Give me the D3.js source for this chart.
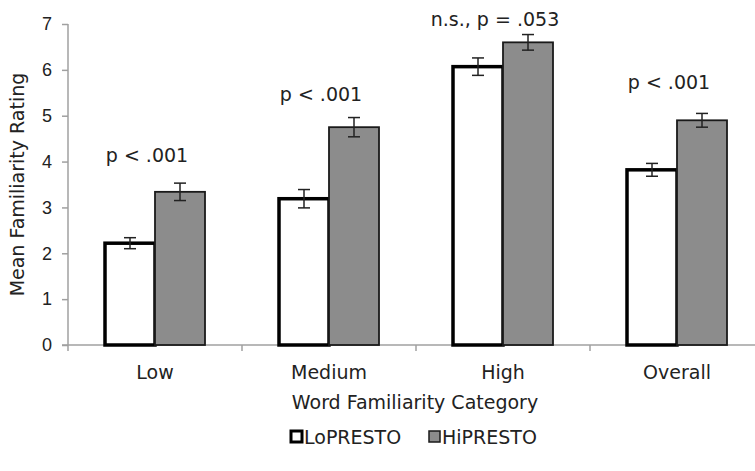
<!DOCTYPE html>
<html lang="en">
<head>
<meta charset="utf-8">
<title>Mean Familiarity Rating</title>
<style>
    body { margin: 0; background: white; }
    svg { display: block; font-family: "DejaVu Sans", Verdana, sans-serif; }
    .axis path, .axis line { stroke: #a0a0a0; stroke-width: 1.5; fill: none; }
    .axis text { font-size: 18px; fill: #222; }
</style>
</head>
<body>
<div id="chart"></div>
<script src="https://d3js.org/d3.v7.min.js"></script>
<script>
    // data
    var categories = ["Low", "Medium", "High", "Overall"];
    var seriesNames = ["LoPRESTO", "HiPRESTO"];
    var loMeans = [2.22, 3.19, 6.07, 3.82];
    var loErr = [0.12, 0.20, 0.19, 0.14];
    var hiMeans = [3.34, 4.75, 6.60, 4.90];
    var hiErr = [0.19, 0.21, 0.17, 0.15];
    var pLabels = ["p < .001", "p < .001", "n.s., p = .053", "p < .001"];
    var pLabelY = [3.99, 5.32, 6.96, 5.58];
    var yTicks = [0, 1, 2, 3, 4, 5, 6, 7];

    var width = 755, height = 471;
    var padLeft = 68, padTop = 24, plotBottom = 345;
    var band = 174;

    var svg = d3.select("#chart").append("svg")
        .attr("width", width)
        .attr("height", height);

    var xScale = d3.scaleBand()
        .domain(categories)
        .range([padLeft, padLeft + band * categories.length])
        .padding(0);

    var yScale = d3.scaleLinear()
        .domain([0, 7])
        .range([plotBottom, padTop]);

    var barW = 50;

    // y axis
    var yAxis = d3.axisLeft(yScale).tickValues(yTicks).tickSize(6).tickPadding(10).tickFormat(d3.format("d"));
    svg.append("g")
        .attr("class", "axis")
        .attr("transform", "translate(" + padLeft + ",0)")
        .call(yAxis)
        .call(function(g) { g.select(".domain").attr("d", "M0," + padTop + "V" + plotBottom); });

    // x axis with ticks at category boundaries
    var xAxisG = svg.append("g")
        .attr("class", "axis")
        .attr("transform", "translate(0," + plotBottom + ")");
    xAxisG.append("line")
        .attr("x1", padLeft - 6).attr("x2", padLeft + band * categories.length)
        .attr("y1", 0).attr("y2", 0);
    xAxisG.selectAll("line.tk")
        .data(categories)
        .enter().append("line")
        .attr("class", "tk")
        .attr("x1", function(d) { return xScale(d); })
        .attr("x2", function(d) { return xScale(d); })
        .attr("y1", 0).attr("y2", 6);
    xAxisG.selectAll("text")
        .data(categories)
        .enter().append("text")
        .attr("x", function(d) { return xScale(d) + xScale.bandwidth() / 2; })
        .attr("y", 34)
        .attr("text-anchor", "middle")
        .style("font-size", "19px")
        .text(function(d) { return d; });

    // bars
    var groups = svg.selectAll("g.cat")
        .data(categories)
        .enter().append("g")
        .attr("class", "cat");

    groups.append("rect")
        .attr("x", function(d) { return xScale(d) + xScale.bandwidth() / 2 - barW; })
        .attr("y", function(d, i) { return yScale(loMeans[i]); })
        .attr("width", barW)
        .attr("height", function(d, i) { return yScale(0) - yScale(loMeans[i]); })
        .style("fill", "white")
        .style("stroke", "#000")
        .style("stroke-width", 3.5);

    groups.append("rect")
        .attr("x", function(d) { return xScale(d) + xScale.bandwidth() / 2; })
        .attr("y", function(d, i) { return yScale(hiMeans[i]); })
        .attr("width", barW)
        .attr("height", function(d, i) { return yScale(0) - yScale(hiMeans[i]); })
        .style("fill", "#8c8c8c")
        .style("stroke", "#1a1a1a")
        .style("stroke-width", 1.8);

    // error bars
    function drawErr(means, errs, offset) {
        categories.forEach(function(c, i) {
            var cx = xScale(c) + xScale.bandwidth() / 2 + offset;
            var y1 = yScale(means[i] + errs[i]);
            var y2 = yScale(means[i] - errs[i]);
            var g = svg.append("g").style("stroke", "#222").style("stroke-width", 1.5);
            g.append("line").attr("x1", cx).attr("x2", cx).attr("y1", y1).attr("y2", y2);
            g.append("line").attr("x1", cx - 6).attr("x2", cx + 6).attr("y1", y1).attr("y2", y1);
            g.append("line").attr("x1", cx - 6).attr("x2", cx + 6).attr("y1", y2).attr("y2", y2);
        });
    }
    drawErr(loMeans, loErr, -barW / 2);
    drawErr(hiMeans, hiErr, barW / 2);

    // significance labels
    svg.selectAll("text.plab")
        .data(categories)
        .enter().append("text")
        .attr("class", "plab")
        .attr("x", function(d) { return xScale(d) + xScale.bandwidth() / 2 - 8; })
        .attr("y", function(d, i) { return yScale(pLabelY[i]); })
        .attr("text-anchor", "middle")
        .style("font-size", "19px")
        .style("fill", "#222")
        .text(function(d, i) { return pLabels[i]; });

    // axis titles
    svg.append("text")
        .attr("transform", "translate(24," + ((padTop + plotBottom) / 2) + ") rotate(-90)")
        .attr("text-anchor", "middle")
        .style("font-size", "19px")
        .style("fill", "#222")
        .text("Mean Familiarity Rating");

    svg.append("text")
        .attr("x", 415)
        .attr("y", 409)
        .attr("text-anchor", "middle")
        .style("font-size", "19px")
        .style("fill", "#222")
        .text("Word Familiarity Category");

    // legend
    var legendX = [288, 426];
    var legend = svg.selectAll("g.leg")
        .data(seriesNames)
        .enter().append("g")
        .attr("class", "leg")
        .attr("transform", function(d, i) { return "translate(" + legendX[i] + ",437)"; });
    legend.append("rect")
        .attr("x", 3).attr("y", -6)
        .attr("width", 11).attr("height", 11)
        .style("fill", function(d, i) { return i === 0 ? "white" : "#8c8c8c"; })
        .style("stroke", function(d, i) { return i === 0 ? "#000" : "#1a1a1a"; })
        .style("stroke-width", function(d, i) { return i === 0 ? 3 : 1.5; });
    legend.append("text")
        .attr("x", 16).attr("y", 7)
        .style("font-size", "19px")
        .style("fill", "#222")
        .text(function(d) { return d; });
</script>
</body>
</html>
